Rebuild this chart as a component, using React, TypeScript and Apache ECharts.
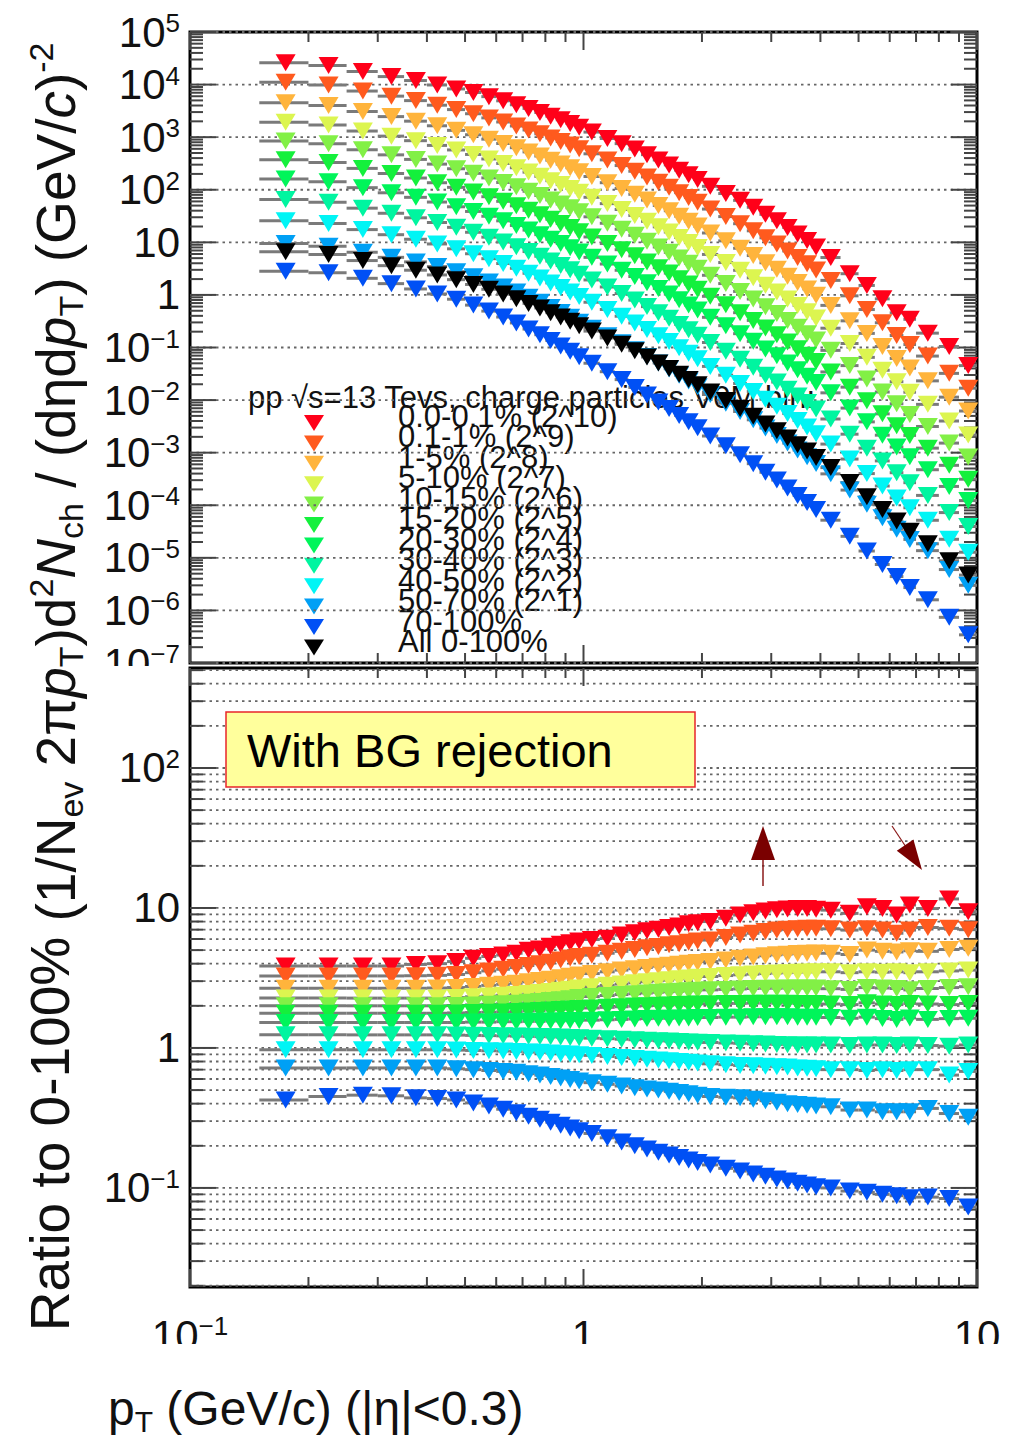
import React, { useEffect, useRef } from 'react';
import * as echarts from 'echarts';

// ---------------- data ----------------
const pTEdges: number[] = [
  0.15, 0.2, 0.25, 0.3, 0.35, 0.4, 0.45, 0.5, 0.55, 0.6, 0.65, 0.7, 0.75, 0.8, 0.85, 0.9, 0.95, 1.0,
  1.1, 1.2, 1.3, 1.4, 1.5, 1.6, 1.7, 1.8, 1.9, 2.0,
  2.2, 2.4, 2.6, 2.8, 3.0, 3.2, 3.4, 3.6, 3.8, 4.0,
  4.5, 5.0, 5.5, 6.0, 6.5, 7.0, 8.0, 9.0, 10.0,
];
const pTCenters: number[] = [
  0.175, 0.225, 0.275, 0.325, 0.375, 0.425, 0.475, 0.525, 0.575, 0.625, 0.675, 0.725, 0.775, 0.825, 0.875, 0.925, 0.975,
  1.05, 1.15, 1.25, 1.35, 1.45, 1.55, 1.65, 1.75, 1.85, 1.95,
  2.1, 2.3, 2.5, 2.7, 2.9, 3.1, 3.3, 3.5, 3.7, 3.9,
  4.25, 4.75, 5.25, 5.75, 6.25, 6.75,
  7.5, 8.5, 9.5,
];
// All 0-100% spectrum (black)
const mbSpectrum: number[] = [
  6.6, 5.85, 4.5, 3.6, 2.95, 2.4, 1.95, 1.58, 1.28, 1.04, 0.85, 0.69, 0.565, 0.46, 0.38, 0.315, 0.26,
  0.205, 0.152, 0.115, 0.087, 0.066, 0.051, 0.04, 0.031, 0.0245, 0.0195,
  0.0142, 0.0098, 0.0069, 0.0049, 0.0035, 0.0026, 0.0019, 0.00142, 0.00107, 0.00081,
  0.00052, 0.00027, 0.000145, 0.000083, 0.00005, 0.000032,
  0.0000185, 0.0000088, 0.0000047,
];
// Ratios to 0-100% (bottom panel)
const ratio0to01: number[] = [
  3.85, 3.85, 3.85, 3.85, 3.95, 4.0, 4.14, 4.37, 4.5, 4.61, 4.75, 4.99, 5.1, 5.33, 5.5, 5.65, 5.8,
  5.95, 6.07, 6.4, 6.66, 6.88, 7.05, 7.25, 7.43, 7.7, 7.85,
  8.0, 8.44, 8.9, 9.25, 9.5, 9.7, 9.85, 9.9, 9.9, 9.8,
  9.65, 9.15, 10.2, 9.9, 8.9, 10.5,
  9.9, 11.6, 9.4,
];
const ratio01to1: number[] = [
  3.27, 3.27, 3.27, 3.27, 3.28, 3.3, 3.35, 3.45, 3.55, 3.65, 3.75, 3.88, 4.0, 4.1, 4.25, 4.4, 4.5,
  4.6, 4.75, 4.9, 5.05, 5.2, 5.3, 5.45, 5.55, 5.7, 5.8,
  5.9, 6.15, 6.4, 6.6, 6.8, 6.95, 7.05, 7.1, 7.15, 7.15,
  7.1, 6.95, 7.1, 6.95, 6.6, 6.95,
  7.25, 7.15, 7.0,
];
const ratio1to5: number[] = [
  2.67, 2.67, 2.67, 2.67, 2.67, 2.68, 2.7, 2.75, 2.8, 2.85, 2.9, 2.97, 3.03, 3.1, 3.17, 3.25, 3.32,
  3.4, 3.5, 3.6, 3.68, 3.76, 3.84, 3.9, 3.97, 4.03, 4.08,
  4.14, 4.25, 4.37, 4.47, 4.56, 4.63, 4.68, 4.72, 4.75, 4.77,
  4.75, 4.65, 5.0, 4.9, 4.85, 4.95,
  4.9, 5.05, 5.15,
];
const ratio5to10: number[] = [
  2.27, 2.27, 2.27, 2.27, 2.27, 2.27, 2.29, 2.32, 2.35, 2.38, 2.41, 2.45, 2.49, 2.53, 2.58, 2.63, 2.68,
  2.74, 2.8, 2.86, 2.92, 2.97, 3.02, 3.07, 3.12, 3.16, 3.2,
  3.24, 3.29, 3.33, 3.37, 3.4, 3.43, 3.45, 3.47, 3.49, 3.5,
  3.5, 3.45, 3.5, 3.48, 3.5, 3.45,
  3.5, 3.55, 3.6,
];
const ratio10to15: number[] = [
  2.0, 2.0, 2.0, 2.0, 2.0, 2.0, 2.01, 2.03, 2.05, 2.07, 2.09, 2.12, 2.15, 2.18, 2.21, 2.25, 2.29,
  2.33, 2.37, 2.41, 2.44, 2.47, 2.5, 2.52, 2.54, 2.56, 2.58,
  2.6, 2.62, 2.64, 2.66, 2.67, 2.67, 2.68, 2.68, 2.68, 2.68,
  2.65, 2.62, 2.7, 2.68, 2.66, 2.6,
  2.66, 2.7, 2.74,
];
const ratio15to20: number[] = [
  1.77, 1.77, 1.77, 1.77, 1.77, 1.77, 1.78, 1.79, 1.8, 1.81, 1.82, 1.84, 1.85, 1.87, 1.88, 1.9, 1.91,
  1.93, 1.95, 1.97, 1.99, 2.0, 2.02, 2.03, 2.04, 2.05, 2.06,
  2.07, 2.08, 2.08, 2.09, 2.09, 2.09, 2.09, 2.08, 2.08, 2.08,
  2.06, 2.04, 2.1, 2.06, 2.04, 2.08,
  2.06, 2.04, 2.08,
];
const ratio20to30: number[] = [
  1.52, 1.52, 1.52, 1.52, 1.52, 1.52, 1.52, 1.53, 1.53, 1.54, 1.54, 1.55, 1.55, 1.56, 1.56, 1.57, 1.57,
  1.58, 1.59, 1.6, 1.61, 1.62, 1.63, 1.63, 1.64, 1.64, 1.65,
  1.65, 1.66, 1.66, 1.67, 1.67, 1.67, 1.67, 1.66, 1.66, 1.66,
  1.65, 1.63, 1.66, 1.62, 1.6, 1.64,
  1.6, 1.62, 1.63,
];
const ratio30to40: number[] = [
  1.24, 1.24, 1.24, 1.24, 1.24, 1.24, 1.235, 1.23, 1.225, 1.22, 1.215, 1.21, 1.205, 1.2, 1.195, 1.19, 1.185,
  1.175, 1.165, 1.155, 1.145, 1.135, 1.125, 1.12, 1.11, 1.105, 1.1,
  1.095, 1.085, 1.08, 1.07, 1.065, 1.06, 1.055, 1.05, 1.05, 1.05,
  1.05, 1.04, 1.05, 1.05, 1.04, 1.05,
  1.04, 1.03, 1.05,
];
const ratio40to50: number[] = [
  0.97, 0.97, 0.97, 0.97, 0.97, 0.97, 0.965, 0.96, 0.955, 0.95, 0.945, 0.935, 0.93, 0.92, 0.91, 0.905, 0.895,
  0.885, 0.87, 0.855, 0.84, 0.83, 0.82, 0.81, 0.8, 0.79, 0.78,
  0.77, 0.76, 0.75, 0.745, 0.74, 0.735, 0.73, 0.72, 0.715, 0.71,
  0.7, 0.7, 0.69, 0.7, 0.69, 0.7,
  0.7, 0.64, 0.68,
];
const ratio50to70: number[] = [
  0.72, 0.72, 0.72, 0.72, 0.72, 0.72, 0.71, 0.7, 0.69, 0.68, 0.67, 0.655, 0.64, 0.625, 0.61, 0.595, 0.58,
  0.565, 0.55, 0.535, 0.52, 0.51, 0.5, 0.49, 0.48, 0.47, 0.46,
  0.45, 0.445, 0.44, 0.43, 0.42, 0.41, 0.4, 0.395, 0.39, 0.385,
  0.38, 0.36, 0.36, 0.35, 0.35, 0.35,
  0.37, 0.34, 0.32,
];
const ratio70to100: number[] = [
  0.425, 0.45, 0.46, 0.455, 0.44, 0.435, 0.425, 0.405, 0.385, 0.365, 0.345, 0.325, 0.31, 0.295, 0.28, 0.268, 0.256,
  0.245, 0.228, 0.213, 0.2, 0.19, 0.18, 0.172, 0.165, 0.158, 0.152,
  0.146, 0.138, 0.132, 0.126, 0.121, 0.116, 0.112, 0.108, 0.105, 0.102,
  0.1, 0.095, 0.093, 0.09, 0.088, 0.085,
  0.086, 0.084, 0.073,
];
const classRatios: number[][] = [
  ratio0to01, ratio01to1, ratio1to5, ratio5to10, ratio10to15, ratio15to20,
  ratio20to30, ratio30to40, ratio40to50, ratio50to70, ratio70to100,
];
const scaleFactors: number[] = [1024, 512, 256, 128, 64, 32, 16, 8, 4, 2, 1];
const classLabels: string[] = [
  '0.0-0.1% (2^10)', '0.1-1% (2^9)', '1-5% (2^8)', '5-10% (2^7)', '10-15% (2^6)', '15-20% (2^5)',
  '20-30% (2^4)', '30-40% (2^3)', '40-50% (2^2)', '50-70% (2^1)', '70-100%',
];
const mbLabel = 'All 0-100%';
const classColors: string[] = [
  '#ff0019', '#ff5a1e', '#ffb43c', '#dcf550', '#82f046', '#14f03c',
  '#00f55a', '#00f5a0', '#00f5f5', '#00a0f5', '#0050f5',
];
const mbColor = '#000000';
const legendHeader = 'pp \u221As=13 Tevs, charge particles V0M bin:';
const topYExponents: number[] = [-7, -6, -5, -4, -3, -2, -1, 0, 1, 2, 3, 4, 5];
const bottomYExponents: number[] = [-1, 0, 1, 2];
const xExponents: number[] = [-1, 0, 1];

// ---------------- layout / style ----------------
const FONT = '"Liberation Sans", Arial, Helvetica, sans-serif';
const GRID_LEFT = 190;
const GRID_W = 787;
const TOP_Y = 32;
const TOP_H = 631;
const BOT_Y = 668;
const BOT_H = 619;
const X_MIN = -1, X_MAX = 1;
const TOP_MIN = -7, TOP_MAX = 5;
const BOT_MIN = Math.log10(0.0196), BOT_MAX = Math.log10(518);

const lg = (v: number) => Math.log10(v);

const expLabel = (v: number) => {
  const e = Math.round(v);
  if (Math.abs(v - e) > 1e-6) return '';
  if (e === 0) return '{b|1}';
  if (e === 1) return '{b|10}';
  return '{b|10}{s|' + (e < 0 ? '\u2212' + -e : String(e)) + '}';
};
const labelRich = {
  b: { fontSize: 42, lineHeight: 44, fontFamily: FONT, color: '#111' },
  s: { fontSize: 26, lineHeight: 20, verticalAlign: 'top', fontFamily: FONT, color: '#111' },
};

function buildDecor(yLo: number, yHi: number) {
  const items: number[][] = [];
  for (let e = Math.floor(yLo); e <= Math.ceil(yHi); e++) {
    for (let k = 1; k <= 9; k++) {
      const v = e + Math.log10(k);
      if (v >= yLo - 1e-9 && v <= yHi + 1e-9) items.push([X_MIN, v, k === 1 ? 1 : 0]);
    }
  }
  for (let e = -1; e <= 1; e++) {
    for (let k = 1; k <= 9; k++) {
      const v = e + Math.log10(k);
      if (v >= X_MIN - 1e-9 && v <= X_MAX + 1e-9) items.push([v, yLo, k === 1 ? 3 : 2]);
    }
  }
  return items;
}

function makeDecor(gridAll: boolean, yLo: number) {
  return (params: any, api: any) => {
    const cs = params.coordSys;
    const kind = api.value(2);
    const children: any[] = [];
    const tickStyle = { stroke: '#444', lineWidth: 2 };
    if (kind === 0 || kind === 1) {
      const py = api.coord([X_MIN, api.value(1)])[1];
      const len = kind === 1 ? 26 : 13;
      if (kind === 1 || gridAll) {
        children.push({
          type: 'line',
          shape: { x1: cs.x, y1: py, x2: cs.x + cs.width, y2: py },
          style: { stroke: '#666', lineWidth: 1.8, lineDash: [2.5, 4] },
        });
      }
      children.push({ type: 'line', shape: { x1: cs.x, y1: py, x2: cs.x + len, y2: py }, style: tickStyle });
      children.push({ type: 'line', shape: { x1: cs.x + cs.width - len, y1: py, x2: cs.x + cs.width, y2: py }, style: tickStyle });
    } else {
      const px = api.coord([api.value(0), yLo])[0];
      const len = kind === 3 ? 18 : 10;
      const yb = cs.y + cs.height;
      children.push({ type: 'line', shape: { x1: px, y1: yb, x2: px, y2: yb - len }, style: tickStyle });
      children.push({ type: 'line', shape: { x1: px, y1: cs.y, x2: px, y2: cs.y + len }, style: tickStyle });
    }
    return { type: 'group', children };
  };
}

const errRender = (params: any, api: any) => {
  const p1 = api.coord([api.value(0), api.value(2)]);
  const p2 = api.coord([api.value(1), api.value(2)]);
  return {
    type: 'line',
    shape: { x1: p1[0], y1: p1[1], x2: p2[0], y2: p2[1] },
    style: { stroke: '#7a7a7a', lineWidth: 3 },
  };
};

const TRI = 'path://M0,0L20,0L10,17Z';
const MARK_SIZE = [20, 17];

function buildOption() {
  const topSets: { name: string; color: string; values: number[] }[] = [];
  classRatios.forEach((r, s) => {
    topSets.push({
      name: classLabels[s],
      color: classColors[s],
      values: mbSpectrum.map((m, i) => m * r[i] * scaleFactors[s]),
    });
  });
  topSets.push({ name: mbLabel, color: mbColor, values: mbSpectrum });

  const bottomSets = classRatios.map((r, s) => ({ name: classLabels[s], color: classColors[s], values: r }));

  const errTop: number[][] = [];
  topSets.forEach((set) => set.values.forEach((v, i) => errTop.push([lg(pTEdges[i]), lg(pTEdges[i + 1]), lg(v)])));
  const errBot: number[][] = [];
  bottomSets.forEach((set) => set.values.forEach((v, i) => errBot.push([lg(pTEdges[i]), lg(pTEdges[i + 1]), lg(v)])));

  const series: any[] = [
    {
      type: 'custom', xAxisIndex: 0, yAxisIndex: 0, silent: true, z: 1, clip: false,
      encode: { x: 0, y: 1 }, renderItem: makeDecor(false, TOP_MIN), data: buildDecor(TOP_MIN, TOP_MAX),
    },
    {
      type: 'custom', xAxisIndex: 1, yAxisIndex: 1, silent: true, z: 1, clip: false,
      encode: { x: 0, y: 1 }, renderItem: makeDecor(true, BOT_MIN), data: buildDecor(BOT_MIN, BOT_MAX),
    },
    {
      type: 'custom', xAxisIndex: 0, yAxisIndex: 0, silent: true, z: 2,
      encode: { x: [0, 1], y: 2 }, renderItem: errRender, data: errTop,
    },
    {
      type: 'custom', xAxisIndex: 1, yAxisIndex: 1, silent: true, z: 2,
      encode: { x: [0, 1], y: 2 }, renderItem: errRender, data: errBot,
    },
  ];
  topSets.forEach((set) => {
    series.push({
      type: 'scatter', name: set.name, xAxisIndex: 0, yAxisIndex: 0, z: 3,
      symbol: TRI, symbolSize: MARK_SIZE, itemStyle: { color: set.color, opacity: 1 },
      data: set.values.map((v, i) => [lg(pTCenters[i]), lg(v)]),
    });
  });
  bottomSets.forEach((set) => {
    series.push({
      type: 'scatter', name: set.name + ' ratio', xAxisIndex: 1, yAxisIndex: 1, z: 3,
      symbol: TRI, symbolSize: MARK_SIZE, itemStyle: { color: set.color, opacity: 1 },
      data: set.values.map((v, i) => [lg(pTCenters[i]), lg(v)]),
    });
  });

  const graphic: any[] = [];
  // legend
  graphic.push({
    type: 'text', x: 248, y: 397, z: 1, silent: true,
    style: { text: legendHeader, fontSize: 31, fontFamily: FONT, fill: '#111', align: 'left', verticalAlign: 'middle' },
  });
  const legendNames = [...classLabels, mbLabel];
  const legendColors = [...classColors, mbColor];
  legendNames.forEach((name, i) => {
    const my = 423 + 20.4 * i;
    graphic.push({
      type: 'polygon', z: 1, silent: true,
      shape: { points: [[304, my - 8], [324, my - 8], [314, my + 8]] },
      style: { fill: legendColors[i] },
    });
    graphic.push({
      type: 'text', x: 398, y: 416 + 20.5 * i, z: 1, silent: true,
      style: { text: name, fontSize: 31, fontFamily: FONT, fill: '#111', align: 'left', verticalAlign: 'middle' },
    });
  });
  // covers (labels partially hidden in the reference)
  graphic.push({ type: 'rect', z: 50, silent: true, shape: { x: 100, y: 666, width: 86, height: 26 }, style: { fill: '#fff' } });
  graphic.push({ type: 'rect', z: 50, silent: true, shape: { x: 100, y: 1344, width: 915, height: 36 }, style: { fill: '#fff' } });
  // y titles
  const titleRich = {
    r: { fontSize: 55, lineHeight: 64, fontFamily: FONT, fill: '#111' },
    i: { fontSize: 55, lineHeight: 64, fontFamily: FONT, fill: '#111', fontStyle: 'italic' },
    sb: { fontSize: 34, lineHeight: 34, fontFamily: FONT, fill: '#111', verticalAlign: 'bottom' },
    sp: { fontSize: 34, lineHeight: 34, fontFamily: FONT, fill: '#111', verticalAlign: 'top' },
  };
  graphic.push({
    type: 'text', x: 56, y: 482, rotation: Math.PI / 2, z: 5, silent: true,
    style: {
      text: '{r|(1/N}{sb|ev}{r| 2\u03C0}{i|p}{sb|T}{r|)d}{sp|2}{i|N}{sb|ch}{r| / (d\u03B7d}{i|p}{sb|T}{r|) (GeV/}{i|c}{r|)}{sp|-2}',
      rich: titleRich, align: 'center', verticalAlign: 'middle',
    },
  });
  graphic.push({
    type: 'text', x: 50, y: 1134, rotation: Math.PI / 2, z: 5, silent: true,
    style: { text: '{r|Ratio to 0-100%}', rich: titleRich, align: 'center', verticalAlign: 'middle' },
  });
  // x title
  graphic.push({
    type: 'text', x: 108, y: 1408, z: 5, silent: true,
    style: {
      text: '{r|p}{sb|T}{r| (GeV/c) (|\u03B7|<0.3)}',
      rich: {
        r: { fontSize: 48, lineHeight: 56, fontFamily: FONT, fill: '#111' },
        sb: { fontSize: 30, lineHeight: 30, fontFamily: FONT, fill: '#111', verticalAlign: 'bottom' },
      },
      align: 'left', verticalAlign: 'middle',
    },
  });
  // yellow box
  graphic.push({
    type: 'rect', z: 50, silent: true, shape: { x: 226, y: 712, width: 469, height: 75 },
    style: { fill: '#ffff9c', stroke: '#e8262a', lineWidth: 1.5 },
  });
  graphic.push({
    type: 'text', x: 247, y: 750, z: 51, silent: true,
    style: { text: 'With BG rejection', fontSize: 47, fontFamily: FONT, fill: '#000', align: 'left', verticalAlign: 'middle' },
  });
  // arrows
  graphic.push({ type: 'line', z: 50, silent: true, shape: { x1: 763, y1: 886, x2: 763, y2: 858 }, style: { stroke: '#8b1a1a', lineWidth: 1.5 } });
  graphic.push({ type: 'polygon', z: 50, silent: true, shape: { points: [[763, 826], [751, 860], [775, 860]] }, style: { fill: '#7a0000' } });
  graphic.push({ type: 'line', z: 50, silent: true, shape: { x1: 892, y1: 826, x2: 906, y2: 847 }, style: { stroke: '#8b1a1a', lineWidth: 1.2 } });
  graphic.push({ type: 'polygon', z: 50, silent: true, shape: { points: [[922, 870], [896.8, 850.8], [913.4, 839.6]] }, style: { fill: '#7a0000' } });

  const hidden = { axisLine: { show: false }, axisTick: { show: false }, splitLine: { show: false } };

  return {
    animation: false,
    backgroundColor: '#ffffff',
    grid: [
      { left: GRID_LEFT, top: TOP_Y, width: GRID_W, height: TOP_H, show: true, borderColor: '#000', borderWidth: 3, backgroundColor: 'transparent' },
      { left: GRID_LEFT, top: BOT_Y, width: GRID_W, height: BOT_H, show: true, borderColor: '#000', borderWidth: 3, backgroundColor: 'transparent' },
    ],
    xAxis: [
      { gridIndex: 0, type: 'value', min: X_MIN, max: X_MAX, interval: 1, axisLabel: { show: false }, ...hidden },
      {
        gridIndex: 1, type: 'value', min: X_MIN, max: X_MAX, interval: 1, ...hidden,
        axisLabel: { customValues: xExponents, formatter: expLabel, rich: labelRich, margin: 26, hideOverlap: false, showMinLabel: true, showMaxLabel: true },
      },
    ],
    yAxis: [
      {
        gridIndex: 0, type: 'value', min: TOP_MIN, max: TOP_MAX, interval: 1, ...hidden,
        axisLabel: { customValues: topYExponents, formatter: expLabel, rich: labelRich, margin: 10, hideOverlap: false, showMinLabel: true, showMaxLabel: true },
      },
      {
        gridIndex: 1, type: 'value', min: BOT_MIN, max: BOT_MAX, ...hidden,
        axisLabel: { customValues: bottomYExponents, formatter: expLabel, rich: labelRich, margin: 10, hideOverlap: false },
      },
    ],
    graphic,
    series,
  };
}

export default function App() {
  const ref = useRef<HTMLDivElement>(null);
  useEffect(() => {
    if (!ref.current) return;
    const chart = echarts.init(ref.current, null, { renderer: 'svg' });
    chart.setOption(buildOption() as any);
    return () => chart.dispose();
  }, []);
  return (
    <div
      ref={ref}
      style={{ position: 'absolute', left: 0, top: 0, width: 1015, height: 1446, background: '#fff' }}
    />
  );
}
